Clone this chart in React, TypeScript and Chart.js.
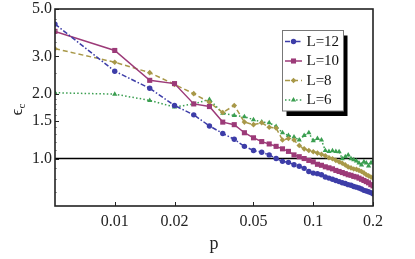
import React, { useEffect, useRef } from "react";
import { Chart, registerables } from "chart.js";
import { drawPoint } from "chart.js/helpers";
Chart.register(...registerables);

const P = [
  0.005, 0.01, 0.015, 0.02, 0.025, 0.03, 0.035, 0.04, 0.045, 0.05,
  0.055, 0.06, 0.065, 0.07, 0.075, 0.08, 0.085, 0.09, 0.095, 0.1,
  0.105, 0.11, 0.115, 0.12, 0.125, 0.13, 0.135, 0.14, 0.145, 0.15,
  0.155, 0.16, 0.165, 0.17, 0.175, 0.18, 0.185, 0.19, 0.195, 0.2,
];
const L12 = [
  4.25, 2.56, 2.13, 1.77, 1.6, 1.42, 1.31, 1.23, 1.14, 1.09,
  1.07, 1.04, 1.0, 0.97, 0.96, 0.935, 0.92, 0.9, 0.87, 0.855,
  0.85, 0.84, 0.82, 0.81, 0.8, 0.79, 0.78, 0.77, 0.765, 0.755,
  0.75, 0.74, 0.735, 0.728, 0.72, 0.71, 0.705, 0.7, 0.693, 0.685,
];
const L10 = [
  3.93, 3.2, 2.32, 2.24, 1.8, 1.75, 1.48, 1.44, 1.32, 1.25,
  1.2, 1.17, 1.14, 1.11, 1.08, 1.04, 1.02, 1.0, 0.98, 0.965,
  0.94, 0.93, 0.915, 0.905, 0.895, 0.88, 0.87, 0.86, 0.85, 0.84,
  0.835, 0.825, 0.82, 0.81, 0.8, 0.79, 0.78, 0.77, 0.755, 0.745,
];
const L8 = [
  3.26, 2.82, 2.52, 2.22, 2.01, 1.83, 1.64, 1.77, 1.48, 1.44,
  1.47, 1.4, 1.39, 1.22, 1.24, 1.22, 1.15, 1.11, 1.09, 1.075,
  1.06, 1.046, 1.03, 1.008, 0.997, 0.98, 0.965, 0.95, 0.934, 0.914,
  0.904, 0.894, 0.89, 0.88, 0.87, 0.857, 0.84, 0.83, 0.82, 0.81,
];
const L6 = [
  2.03, 2.0, 1.87, 1.74, 1.8, 1.89, 1.63, 1.59, 1.57, 1.52,
  1.48, 1.47, 1.41, 1.32, 1.28, 1.26, 1.22, 1.28, 1.32, 1.21,
  1.24, 1.22, 1.09, 1.08, 1.087, 1.08, 1.075, 0.997, 1.02, 1.04,
  0.997, 0.986, 0.975, 0.954, 0.934, 0.965, 0.954, 0.923, 0.954, 0.975,
];
const SERIES_NAMES = ["L=12", "L=10", "L=8", "L=6"];
const X_TICKS = [0.01, 0.02, 0.05, 0.1, 0.2];
const Y_TICKS = [1.0, 1.5, 2.0, 3.0, 5.0];
const Y_MINOR = [0.7, 0.8, 0.9, 1.1, 1.2, 1.3, 1.4, 1.6, 1.7, 1.8, 1.9, 2.5, 3.5, 4.0, 4.5];
const X_MIN = 0.005;
const X_MAX = 0.2;
const Y_MIN = 0.6;
const Y_MAX = 5.0;
const REF_LEVEL = 1.0;

const FONT = "'Liberation Serif', 'Times New Roman', serif";

const STYLES = [
  { color: "#3d3da8", dash: [5, 2, 1.5, 2], pointStyle: "circle", radius: 2.7 },
  { color: "#9c3a78", dash: [], pointStyle: "rect", radius: 3.6 },
  { color: "#a89848", dash: [5, 3], pointStyle: "rectRot", radius: 2.8 },
  { color: "#3a9e50", dash: [1.5, 2.2], pointStyle: "triangle", radius: 3.0 },
];

const decor = {
  id: "decor",
  beforeDatasetsDraw(chart: any) {
    const { ctx, chartArea: a, scales } = chart;
    const yy = scales.y.getPixelForValue(REF_LEVEL);
    ctx.save();
    ctx.strokeStyle = "#000";
    ctx.lineWidth = 1.4;
    ctx.beginPath();
    ctx.moveTo(a.left, yy);
    ctx.lineTo(a.right, yy);
    ctx.stroke();
    ctx.restore();
  },
  afterDraw(chart: any) {
    const { ctx, chartArea: a, scales } = chart;
    ctx.save();
    ctx.strokeStyle = "#222";
    ctx.lineWidth = 1;
    ctx.beginPath();
    X_TICKS.forEach((v) => {
      const px = Math.round(scales.x.getPixelForValue(v)) + 0.5;
      ctx.moveTo(px, a.bottom);
      ctx.lineTo(px, a.bottom - 4);
    });
    Y_TICKS.forEach((v) => {
      const py = Math.round(scales.y.getPixelForValue(v)) + 0.5;
      ctx.moveTo(a.left, py);
      ctx.lineTo(a.left + 4, py);
    });
    ctx.stroke();
    ctx.strokeStyle = "#888";
    ctx.lineWidth = 0.8;
    ctx.beginPath();
    Y_MINOR.forEach((v) => {
      const py = Math.round(scales.y.getPixelForValue(v)) + 0.5;
      ctx.moveTo(a.left, py);
      ctx.lineTo(a.left + 2, py);
    });
    ctx.stroke();
    ctx.strokeStyle = "#222";
    ctx.lineWidth = 1.6;
    ctx.strokeRect(a.left, a.top, a.right - a.left, a.bottom - a.top);
    ctx.fillStyle = "#222";
    ctx.font = `18px ${FONT}`;
    ctx.textAlign = "center";
    ctx.textBaseline = "middle";
    ctx.fillText("p", (a.left + a.right) / 2, 244);
    ctx.save();
    ctx.translate(22, (a.top + a.bottom) / 2 + 2);
    ctx.rotate(-Math.PI / 2);
    ctx.font = `17px ${FONT}`;
    ctx.textAlign = "left";
    ctx.textBaseline = "alphabetic";
    ctx.fillText("\u03f5", -6, 0);
    const w = ctx.measureText("\u03f5").width;
    ctx.font = `11px ${FONT}`;
    ctx.fillText("c", -6 + w, 3);
    ctx.restore();
    const bx = 282.5, by = 30.5, bw = 61, bh = 80.5;
    ctx.fillStyle = "#000";
    ctx.fillRect(bx + 4, by + 5, bw, bh);
    ctx.fillStyle = "#fff";
    ctx.fillRect(bx, by, bw, bh);
    ctx.strokeStyle = "#777";
    ctx.lineWidth = 1;
    ctx.strokeRect(bx, by, bw, bh);
    SERIES_NAMES.forEach((name, i) => {
      const s = STYLES[i];
      const cy = 41.5 + i * 19.5;
      ctx.strokeStyle = s.color;
      ctx.fillStyle = s.color;
      ctx.lineWidth = 1.5;
      ctx.setLineDash(s.dash);
      ctx.beginPath();
      ctx.moveTo(285, cy);
      ctx.lineTo(302, cy);
      ctx.stroke();
      ctx.setLineDash([]);
      drawPoint(ctx, { pointStyle: s.pointStyle, radius: s.radius, rotation: 0, borderWidth: 0 } as any, 293.5, cy);
      ctx.fillStyle = "#111";
      ctx.font = `15px ${FONT}`;
      ctx.textAlign = "left";
      ctx.textBaseline = "middle";
      ctx.fillText(name, 306.5, cy + 0.5);
    });
    ctx.restore();
  },
};

export default function App() {
  const ref = useRef<HTMLCanvasElement | null>(null);
  useEffect(() => {
    if (!ref.current) return;
    const all = [L12, L10, L8, L6];
    const chart = new Chart(ref.current, {
      type: "line",
      data: {
        datasets: all.map((vals, i) => ({
          label: SERIES_NAMES[i],
          data: P.map((p, j) => ({ x: p, y: vals[j] })),
          borderColor: STYLES[i].color,
          backgroundColor: STYLES[i].color,
          borderWidth: 1.5,
          borderDash: STYLES[i].dash,
          pointStyle: STYLES[i].pointStyle as any,
          pointRadius: STYLES[i].radius,
          pointBorderWidth: 0,
          pointBackgroundColor: STYLES[i].color,
          tension: 0,
          fill: false,
        })),
      },
      plugins: [decor],
      options: {
        animation: false,
        responsive: true,
        maintainAspectRatio: false,
        layout: { padding: { top: 9, right: 42, left: 0, bottom: 0 } },
        plugins: { legend: { display: false }, tooltip: { enabled: false } },
        scales: {
          x: {
            type: "logarithmic",
            min: X_MIN,
            max: X_MAX,
            afterBuildTicks: (s: any) => {
              s.ticks = X_TICKS.map((v) => ({ value: v }));
            },
            afterFit: (s: any) => {
              s.height = 53;
              s.paddingLeft = 0;
              s.paddingRight = 0;
            },
            grid: { display: false, drawTicks: false },
            border: { display: false },
            ticks: {
              autoSkip: false,
              maxRotation: 0,
              padding: 6,
              color: "#222",
              font: { family: FONT, size: 16 },
              callback: (v: any) => String(Number(v)),
            },
          },
          y: {
            type: "logarithmic",
            min: Y_MIN,
            max: Y_MAX,
            afterBuildTicks: (s: any) => {
              s.ticks = Y_TICKS.map((v) => ({ value: v }));
            },
            afterFit: (s: any) => {
              s.width = 55;
              s.paddingTop = 0;
              s.paddingBottom = 0;
            },
            grid: { display: false, drawTicks: false },
            border: { display: false },
            ticks: {
              autoSkip: false,
              padding: 3,
              color: "#222",
              font: { family: FONT, size: 16 },
              callback: (v: any) => Number(v).toFixed(1),
            },
          },
        },
      },
    });
    return () => chart.destroy();
  }, []);
  return (
    <div style={{ position: "fixed", left: 0, top: 0, width: 415, height: 259, background: "#fff" }}>
      <canvas ref={ref} />
    </div>
  );
}
